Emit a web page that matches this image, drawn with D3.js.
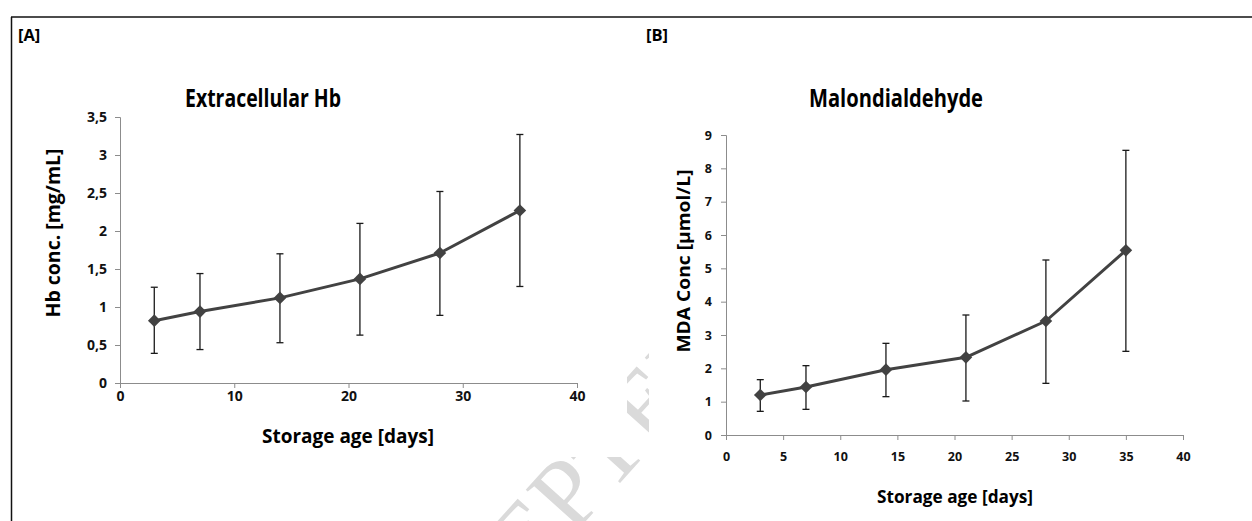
<!DOCTYPE html>
<html lang="en">
<head>
<meta charset="utf-8">
<style>
  body { margin: 0; background: white; }
  svg { font-family: 'Open Sans', sans-serif; font-weight: bold; }
  .axis path, .axis line { stroke: #8c8c8c; }
  .axis text { fill: #111; font-weight: bold; font-family: 'Open Sans'; }
  .series { fill: none; stroke: #424242; stroke-width: 3px; stroke-linejoin: round; }
  .err { stroke: #1a1a1a; stroke-width: 1.3px; }
  .marker { fill: #424242; }
</style>
</head>
<body>
<svg width="1252" height="521"></svg>
<script src="https://cdn.jsdelivr.net/npm/d3@7"></script>
<script>
// storage age (days)
var days = [3, 7, 14, 21, 28, 35];

// [A] extracellular Hb, mg/mL
var hbMean = [0.82, 0.94, 1.12, 1.37, 1.71, 2.27];
var hbLow  = [0.39, 0.44, 0.53, 0.63, 0.89, 1.27];
var hbHigh = [1.26, 1.44, 1.70, 2.10, 2.52, 3.27];

// [B] malondialdehyde, µmol/L
var mdaMean = [1.20, 1.44, 1.96, 2.33, 3.42, 5.54];
var mdaLow  = [0.71, 0.77, 1.15, 1.02, 1.55, 2.51];
var mdaHigh = [1.66, 2.08, 2.75, 3.60, 5.25, 8.54];

var hbXTicks = [0, 10, 20, 30, 40];
var hbYTicks = [0, 0.5, 1, 1.5, 2, 2.5, 3, 3.5];
var mdaXTicks = [0, 5, 10, 15, 20, 25, 30, 35, 40];
var mdaYTicks = [0, 1, 2, 3, 4, 5, 6, 7, 8, 9];

var svg = d3.select("svg");
var comma = d => String(d).replace(".", ",");

// watermark, mostly hidden behind the two figure images
svg.append("text")
    .attr("transform", "translate(394,734) rotate(-48)")
    .attr("font-family", "'Liberation Serif', serif")
    .attr("font-weight", "normal")
    .attr("font-size", 100)
    .attr("fill", "#dadada")
    .text("ACCEPTED MANUSCRIPT");

svg.append("rect").attr("x", 0).attr("y", 0).attr("width", 1252).attr("height", 18).attr("fill", "white");
svg.append("rect").attr("x", 12).attr("y", 18).attr("width", 615).attr("height", 439).attr("fill", "white");
svg.append("rect").attr("x", 649).attr("y", 18).attr("width", 603).attr("height", 503).attr("fill", "white");

// page frame
svg.append("line").attr("x1", 11).attr("x2", 1252).attr("y1", 17).attr("y2", 17)
    .attr("stroke", "#111").attr("stroke-width", 1.5);
svg.append("line").attr("x1", 11.5).attr("x2", 11.5).attr("y1", 17).attr("y2", 521)
    .attr("stroke", "#111").attr("stroke-width", 1.5);

function panel(o) {
  var x = d3.scaleLinear().domain([0, 40]).range(o.xr);
  var y = d3.scaleLinear().domain(o.yd).range(o.yr);
  var g = svg.append("g");

  g.append("g").attr("class", "axis")
      .attr("transform", "translate(0," + o.yr[0] + ")")
      .call(d3.axisBottom(x).tickValues(o.xt).tickSize(5).tickPadding(o.xpad).tickFormat(d3.format("d")))
      .selectAll("text").attr("font-size", o.tick);
  g.append("g").attr("class", "axis")
      .attr("transform", "translate(" + o.xr[0] + ",0)")
      .call(d3.axisLeft(y).tickValues(o.yt).tickSize(5).tickPadding(o.ypad).tickFormat(comma))
      .selectAll("text").attr("font-size", o.tick);

  var caps = 3.5;
  g.selectAll(".err").data(days).join("line").attr("class", "err")
      .attr("x1", d => x(d)).attr("x2", d => x(d))
      .attr("y1", (d, i) => y(o.low[i])).attr("y2", (d, i) => y(o.high[i]));
  g.selectAll(".capT").data(days).join("line").attr("class", "err capT")
      .attr("x1", d => x(d) - caps).attr("x2", d => x(d) + caps)
      .attr("y1", (d, i) => y(o.high[i])).attr("y2", (d, i) => y(o.high[i]));
  g.selectAll(".capB").data(days).join("line").attr("class", "err capB")
      .attr("x1", d => x(d) - caps).attr("x2", d => x(d) + caps)
      .attr("y1", (d, i) => y(o.low[i])).attr("y2", (d, i) => y(o.low[i]));

  g.append("path").attr("class", "series")
      .attr("d", d3.line().x(d => x(d)).y((d, i) => y(o.mean[i]))(days));

  g.selectAll(".marker").data(days).join("path").attr("class", "marker")
      .attr("transform", (d, i) => "translate(" + x(d) + "," + y(o.mean[i]) + ") rotate(45)")
      .attr("d", d3.symbol(d3.symbolSquare, 80));

  g.append("text").attr("x", o.title[1]).attr("y", 107).attr("text-anchor", "middle")
      .attr("font-size", 25).attr("textLength", o.title[2]).attr("lengthAdjust", "spacingAndGlyphs")
      .text(o.title[0]);
  g.append("text").attr("x", o.xlab[0]).attr("y", o.xlab[1]).attr("text-anchor", "middle")
      .attr("font-size", o.labSize).attr("textLength", o.xlab[2]).attr("lengthAdjust", "spacingAndGlyphs")
      .text("Storage age [days]");
  g.append("text").attr("transform", "translate(" + o.ylab[1] + "," + o.ylab[2] + ") rotate(-90)")
      .attr("text-anchor", "middle")
      .attr("font-size", o.labSize).attr("textLength", o.ylab[3]).attr("lengthAdjust", "spacingAndGlyphs")
      .text(o.ylab[0]);
  g.append("text").attr("x", o.tag[1]).attr("y", 41).attr("font-size", 16.5).text(o.tag[0]);
}

panel({
  xr: [120, 577], yd: [0, 3.5], yr: [383, 117], xt: hbXTicks, yt: hbYTicks, xpad: 3, ypad: 8, tick: 14,
  mean: hbMean, low: hbLow, high: hbHigh,
  title: ["Extracellular Hb", 263, 156],
  labSize: 19,
  xlab: [348, 443, 172],
  ylab: ["Hb conc. [mg/mL]", 60, 233, 169],
  tag: ["[A]", 18]
});

panel({
  xr: [726, 1183], yd: [0, 9], yr: [435, 135], xt: mdaXTicks, yt: mdaYTicks, xpad: 12, ypad: 9, tick: 12.5,
  mean: mdaMean, low: mdaLow, high: mdaHigh,
  title: ["Malondialdehyde", 896, 174],
  labSize: 18,
  xlab: [955, 503, 156],
  ylab: ["MDA Conc [µmol/L]", 690, 261, 183],
  tag: ["[B]", 646]
});
</script>
</body>
</html>
